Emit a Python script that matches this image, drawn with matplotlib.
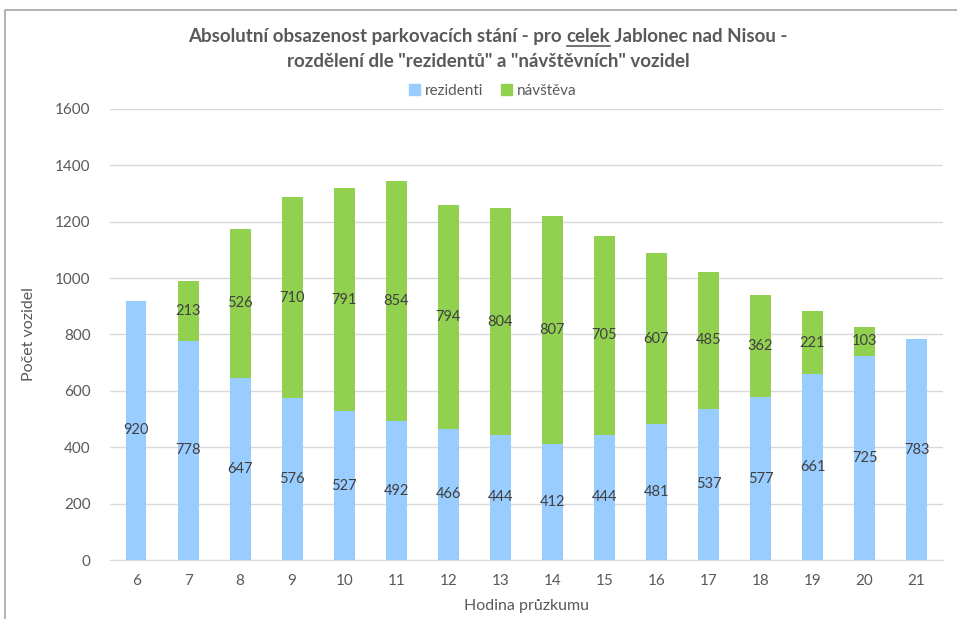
import matplotlib
matplotlib.use("Agg")
import matplotlib.pyplot as plt
from matplotlib.patches import Rectangle, Patch
from matplotlib.lines import Line2D

# --- data ---
hours = [6, 7, 8, 9, 10, 11, 12, 13, 14, 15, 16, 17, 18, 19, 20, 21]
rezidenti = [920, 778, 647, 576, 527, 492, 466, 444, 412, 444, 481, 537, 577, 661, 725, 783]
navsteva = [0, 213, 526, 710, 791, 854, 794, 804, 807, 705, 607, 485, 362, 221, 103, 0]
series_names = ["rezidenti", "návštěva"]

BLUE = "#99CCFF"
GREEN = "#92D050"
TXT = "#595959"
FONT = "Lato"

plt.rcParams["font.family"] = [FONT, "DejaVu Sans"]

fig = plt.figure(figsize=(9.57, 6.19), dpi=100)
ax = fig.add_axes([0.115, 0.0953, 0.870, 0.7287])

x = list(range(len(hours)))
ax.bar(x, rezidenti, width=0.4, color=BLUE, zorder=2)
ax.bar(x, navsteva, width=0.4, bottom=rezidenti, color=GREEN, zorder=2)

for i in x:
    ax.text(i, rezidenti[i] / 2, str(rezidenti[i]), ha="center", va="center",
            fontsize=10.5, color="#404040", zorder=3)
    if navsteva[i]:
        ax.text(i, rezidenti[i] + navsteva[i] / 2, str(navsteva[i]), ha="center",
                va="center", fontsize=10.5, color="#404040", zorder=3)

ax.set_xlim(-0.5, len(hours) - 0.5)
ax.set_ylim(0, 1600)
ax.set_yticks(range(0, 1601, 200))
ax.set_xticks(x)
ax.set_xticklabels([str(h) for h in hours])
ax.tick_params(length=0, labelsize=11, colors=TXT, pad=10)
ax.tick_params(axis="y", pad=14)
ax.yaxis.grid(True, color="#D9D9D9", linewidth=1, zorder=0)
ax.set_axisbelow(True)
for s in ["top", "right", "left"]:
    ax.spines[s].set_visible(False)
ax.spines["bottom"].set_color("#D9D9D9")

ax.set_ylabel("Počet vozidel", fontsize=11.5, color=TXT, labelpad=14)
ax.set_xlabel("Hodina průzkumu", fontsize=11.5, color=TXT, labelpad=8)

# legend
handles = [Patch(color=BLUE), Patch(color=GREEN)]
fig.legend(handles, series_names, loc="center", bbox_to_anchor=(0.515, 1 - 91 / 619),
           ncol=2, frameon=False, fontsize=11, handlelength=0.7, handleheight=0.7,
           handletextpad=0.3, columnspacing=1.2, labelcolor=TXT)

# title, with "celek" underlined
cx = 0.51
tkw = dict(fontsize=13.5, fontweight="bold", color="#595959", va="baseline")
y1 = 1 - 42 / 619
parts = ["Absolutní obsazenost parkovacích stání - pro ", "celek", " Jablonec nad Nisou -"]
r = fig.canvas.get_renderer()
objs = [fig.text(0, y1, p, **tkw) for p in parts]
widths = [o.get_window_extent(r).width / fig.bbox.width for o in objs]
xs = cx - sum(widths) / 2
for o, w in zip(objs, widths):
    o.set_x(xs)
    if o.get_text() == "celek":
        fig.add_artist(Line2D([xs, xs + w], [y1 - 4 / 619] * 2, color="#595959",
                              linewidth=1.2, transform=fig.transFigure))
    xs += w
fig.text(cx, 1 - 67 / 619, 'rozdělení dle "rezidentů" a "návštěvních" vozidel',
         ha="center", **tkw)

# chart frame (right/bottom edges run off the image)
fig.add_artist(Rectangle((5 / 957, -0.1), 1.0, 1.1 - 10 / 619, fill=False,
                         edgecolor="#A6A6A6", linewidth=1.2, transform=fig.transFigure))

fig.savefig("out.png", dpi=100)
